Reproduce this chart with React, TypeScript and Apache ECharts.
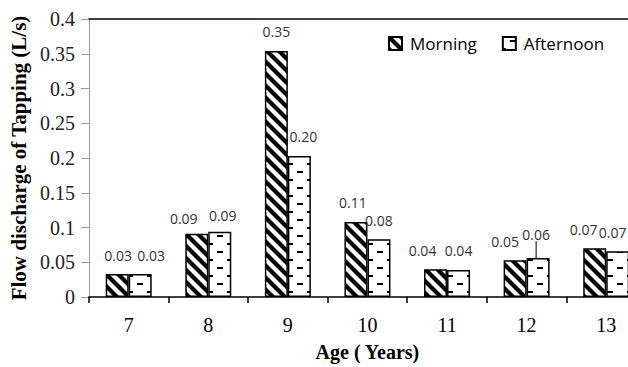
import React, { useEffect, useRef } from 'react';
import * as echarts from 'echarts';

const ages = ['7', '8', '9', '10', '11', '12', '13'];
const morning = [0.033, 0.091, 0.354, 0.108, 0.04, 0.053, 0.07];
const afternoon = [0.033, 0.094, 0.203, 0.083, 0.039, 0.056, 0.066];
const seriesNames = ['Morning', 'Afternoon'];
const yMin = 0;
const yMax = 0.4;
const yStep = 0.05;

const SERIF = "'Times New Roman', 'Liberation Serif', serif";
const SANS = "'Open Sans', 'Liberation Sans', sans-serif";

function stripeTile(): HTMLCanvasElement {
  const c = document.createElement('canvas');
  c.width = 12;
  c.height = 12;
  const g = c.getContext('2d')!;
  g.fillStyle = '#fff';
  g.fillRect(0, 0, 12, 12);
  g.strokeStyle = '#000';
  g.lineWidth = 4.2;
  for (const o of [-12, 0, 12]) {
    g.beginPath();
    g.moveTo(o - 3, -3);
    g.lineTo(o + 15, 15);
    g.stroke();
  }
  return c;
}

function dashTile(): HTMLCanvasElement {
  const c = document.createElement('canvas');
  c.width = 20;
  c.height = 16;
  const g = c.getContext('2d')!;
  g.fillStyle = '#fff';
  g.fillRect(0, 0, 20, 16);
  g.fillStyle = '#000';
  g.fillRect(7, 3, 6, 2);
  g.fillRect(0, 11, 3, 2);
  g.fillRect(17, 11, 3, 2);
  return c;
}

export default function App() {
  const ref = useRef<HTMLDivElement>(null);
  useEffect(() => {
    const chart = echarts.init(ref.current!, null, { renderer: 'svg' });
    const mPattern = { image: stripeTile(), repeat: 'repeat', imageWidth: 12, imageHeight: 12 };
    const aPattern = { image: dashTile(), repeat: 'repeat', imageWidth: 20, imageHeight: 16 };
    const mOffsets = [[1, 0], [-13, 4], [0, 0], [-3, 0], [-13, 0], [-10, 0], [-11, 0]];
    const aShift = [[11, 0], [3, 3], [4, 0], [0, 0], [0, 0], [-2, -5], [-5, 0]];
    const fmt = (p: any) => Number(p.value).toFixed(2);
    const labelBase = {
      show: true,
      position: 'top',
      distance: 12,
      fontFamily: SANS,
      fontSize: 14,
      color: '#333',
      formatter: fmt,
    };
    const option: any = {
      animation: false,
      backgroundColor: '#fff',
      grid: { left: 86, right: 0, top: 19, bottom: 67 },
      legend: {
        left: 388,
        top: 35,
        padding: 0,
        icon: 'rect',
        itemWidth: 13,
        itemHeight: 13,
        itemGap: 25,
        textStyle: { fontFamily: SANS, fontSize: 17, color: '#000', padding: [0, 0, 0, 3] },
        data: seriesNames,
      },
      xAxis: [
        {
          type: 'category',
          data: ages,
          position: 'bottom',
          axisLine: { lineStyle: { color: '#000', width: 1.5 } },
          axisTick: { show: true, length: 6, lineStyle: { color: '#000', width: 1.5 } },
          axisLabel: { margin: 18, fontSize: 20, fontFamily: SERIF, color: '#000' },
          name: 'Age ( Years)',
          nameLocation: 'middle',
          nameGap: 45,
          nameTextStyle: { fontWeight: 'bold', fontSize: 20, fontFamily: SERIF, color: '#000' },
        },
        {
          type: 'category',
          data: ages,
          position: 'top',
          axisLine: { lineStyle: { color: '#000', width: 1.5 } },
          axisTick: { show: false },
          axisLabel: { show: false },
        },
      ],
      yAxis: {
        type: 'value',
        min: yMin,
        max: yMax,
        interval: yStep,
        axisLine: { show: true, lineStyle: { color: '#999', width: 1 } },
        axisTick: { show: true, length: 8, lineStyle: { color: '#999' } },
        splitLine: { show: false },
        axisLabel: { margin: 14, fontSize: 20, fontFamily: SERIF, color: '#222' },
        name: 'Flow discharge of Tapping (L/s)',
        nameLocation: 'middle',
        nameGap: 55,
        nameRotate: 90,
        nameTextStyle: { fontWeight: 'bold', fontSize: 21, fontFamily: SERIF, color: '#000' },
      },
      series: [
        {
          name: seriesNames[0],
          type: 'bar',
          xAxisIndex: 0,
          barWidth: 23,
          barGap: '0%',
          itemStyle: { color: mPattern, borderColor: '#000', borderWidth: 1.5 },
          label: labelBase,
          data: morning.map((v, i) => ({ value: v, label: { offset: mOffsets[i] } })),
        },
        {
          name: seriesNames[1],
          type: 'bar',
          xAxisIndex: 0,
          barWidth: 23,
          barGap: '0%',
          itemStyle: { color: aPattern, borderColor: '#000', borderWidth: 1.5 },
          label: labelBase,
          labelLayout: (p: any) => {
            const s = aShift[p.dataIndex] || [0, 0];
            return { dx: s[0], dy: s[1] };
          },
          data: afternoon.map((v, i) => ({
            value: v,
            labelLine: i === 5 ? { show: true, lineStyle: { color: '#000', width: 1 } } : { show: false },
          })),
        },
      ],
    };
    chart.setOption(option);
    return () => chart.dispose();
  }, []);
  return (
    <div
      ref={ref}
      style={{ position: 'fixed', left: 0, top: 0, width: 646, height: 367, background: '#fff' }}
    />
  );
}
